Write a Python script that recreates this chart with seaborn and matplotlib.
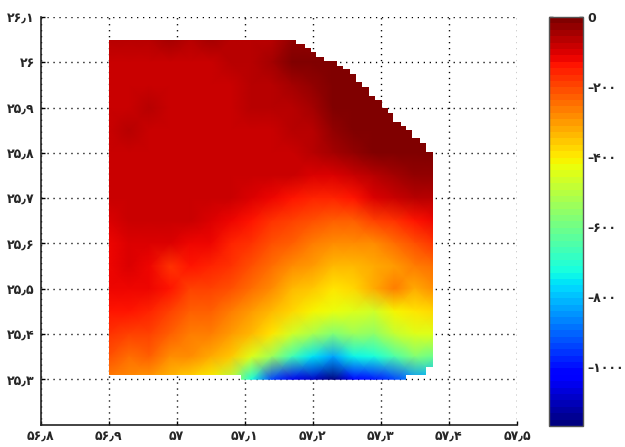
import numpy as np
import matplotlib
matplotlib.use("Agg")
import matplotlib.pyplot as plt
from matplotlib.path import Path
from matplotlib.transforms import Affine2D
import seaborn as sns

# grid of the surface (degrees)
lons = [56.90, 56.93, 56.96, 56.99, 57.02, 57.05, 57.08, 57.11, 57.14,
        57.17, 57.20, 57.23, 57.26, 57.29, 57.32, 57.35, 57.38]
lats = [26.05, 26.00, 25.95, 25.90, 25.85, 25.80, 25.75, 25.70,
        25.65, 25.60, 25.55, 25.50, 25.45, 25.40, 25.35, 25.30]

depth = [
    [-70, -55, -70, -50, -72, -50, -68, -65, -55, -35, -25, -15, -8, -5, -5, -5, -5],
    [-78, -78, -78, -78, -78, -76, -72, -65, -45, -15, -5, -5, -5, -5, -5, -5, -5],
    [-78, -78, -76, -78, -78, -78, -76, -72, -60, -45, -25, -12, -6, -5, -5, -5, -5],
    [-78, -76, -65, -76, -78, -78, -78, -72, -68, -60, -45, -15, -10, -5, -5, -5, -5],
    [-78, -70, -76, -78, -78, -78, -78, -78, -75, -70, -55, -28, -12, -5, -5, -5, -5],
    [-78, -78, -78, -78, -78, -78, -78, -78, -80, -82, -70, -48, -30, -10, -5, -5, -5],
    [-78, -78, -78, -78, -78, -78, -78, -80, -85, -90, -100, -95, -85, -70, -50, -35, -30],
    [-85, -80, -78, -78, -80, -84, -90, -100, -115, -140, -155, -150, -130, -105, -85, -65, -60],
    [-95, -85, -80, -78, -82, -92, -110, -140, -165, -195, -215, -230, -220, -200, -165, -130, -110],
    [-110, -100, -100, -100, -110, -125, -150, -175, -205, -235, -265, -285, -290, -280, -255, -210, -180],
    [-110, -105, -125, -165, -140, -150, -175, -205, -240, -275, -310, -335, -340, -320, -300, -270, -240],
    [-115, -110, -125, -140, -190, -190, -210, -240, -285, -330, -365, -385, -375, -320, -260, -320, -290],
    [-140, -135, -155, -190, -220, -235, -260, -310, -340, -380, -410, -430, -440, -470, -420, -400, -380],
    [-165, -190, -190, -230, -260, -270, -300, -345, -400, -470, -520, -570, -540, -560, -490, -450, -440],
    [-215, -240, -230, -280, -290, -320, -355, -440, -540, -660, -760, -830, -740, -730, -640, -570, -620],
    [-260, -290, -300, -330, -370, -410, -500, -720, -950, -1050, -1090, -1170, -1040, -1000, -950, -850, -800],
]

# staircase limit of the covered area, top right
stair_lon = [57.176, 57.188, 57.198, 57.205, 57.216, 57.235, 57.244, 57.254, 57.264, 57.273, 57.282,
             57.292, 57.302, 57.311, 57.318, 57.329, 57.337, 57.346, 57.358, 57.367, 57.376]
stair_lat = [26.049, 26.040, 26.032, 26.023, 26.012, 26.003, 25.992, 25.985, 25.974, 25.957, 25.946,
             25.926, 25.917, 25.899, 25.888, 25.869, 25.860, 25.851, 25.833, 25.822, 25.802]
# lower limit of the covered area, left to right
bottom_lon = [56.90, 57.095, 57.337, 57.367, 57.376]
bottom_lat = [25.309, 25.298, 25.309, 25.327]

xticks = [56.8, 56.9, 57.0, 57.1, 57.2, 57.3, 57.4, 57.5]
xlabels = ['۵۶٫۸', '۵۶٫۹', '۵۷', '۵۷٫۱', '۵۷٫۲', '۵۷٫۳', '۵۷٫۴', '۵۷٫۵']
yticks = [25.3, 25.4, 25.5, 25.6, 25.7, 25.8, 25.9, 26.0, 26.1]
ylabels = ['۲۵٫۳', '۲۵٫۴', '۲۵٫۵', '۲۵٫۶', '۲۵٫۷', '۲۵٫۸', '۲۵٫۹', '۲۶', '۲۶٫۱']
cticks = [0, -200, -400, -600, -800, -1000]
clabels = ['0', '–۲۰۰', '–۴۰۰', '–۶۰۰', '–۸۰۰', '–۱۰۰۰']

sns.set_style("white")
plt.rcParams['font.family'] = ['DejaVu Sans']

fig = plt.figure(figsize=(6.25, 4.47), dpi=100)
ax = fig.add_axes([40.5 / 625, 1 - 424.5 / 447, 476.5 / 625, 407.5 / 447])
cax = fig.add_axes([549 / 625, 1 - 426 / 447, 34 / 625, 409 / 447])

jet = plt.get_cmap("jet", 64)
sns.heatmap(np.array(depth), ax=ax, cbar_ax=cax, cmap=jet, vmin=-1170, vmax=0,
            xticklabels=False, yticklabels=False, shading='gouraud')

# heatmap works in cell indices, put the surface back on lon/lat
mesh = ax.collections[0]
mesh.set_transform(Affine2D().scale(lons[1] - lons[0], lats[1] - lats[0])
                   .translate(lons[0], lats[0]) + ax.transData)

verts = [(bottom_lon[0], stair_lat[0])]
for i in range(len(stair_lon)):
    verts.append((stair_lon[i], stair_lat[i]))
    if i + 1 < len(stair_lon):
        verts.append((stair_lon[i], stair_lat[i + 1]))
for i in range(len(bottom_lat) - 1, -1, -1):
    verts.append((bottom_lon[i + 1], bottom_lat[i]))
    verts.append((bottom_lon[i], bottom_lat[i]))
mesh.set_clip_path(Path(verts + [verts[0]]), ax.transData)

ax.set_xlim(56.8, 57.5)
ax.set_ylim(25.2, 26.1)
ax.set_xticks(xticks)
ax.set_xticklabels(xlabels, fontsize=9, fontweight='bold', rotation=0)
ax.set_yticks(yticks)
ax.set_yticklabels(ylabels, fontsize=9, fontweight='bold', rotation=0)
ax.tick_params(direction='in', length=3, width=1, color='black', pad=4, bottom=True, left=True)
ax.set_axisbelow(True)
ax.grid(True, color='black', linewidth=1, linestyle=(0, (0.9, 3.4)))

sns.despine(ax=ax)
for side in ['left', 'bottom']:
    ax.spines[side].set_visible(True)
    ax.spines[side].set_color('#222222')
    ax.spines[side].set_linewidth(1.2)

cbar = mesh.colorbar
cbar.set_ticks(cticks)
cbar.set_ticklabels(clabels, fontsize=9, fontweight='bold')
cax.tick_params(direction='in', length=3, width=1, color='black', right=True, left=True, pad=3)
cbar.outline.set_visible(True)
cbar.outline.set_edgecolor('#555555')
cbar.outline.set_linewidth(1)

fig.savefig("out.png", dpi=100)
